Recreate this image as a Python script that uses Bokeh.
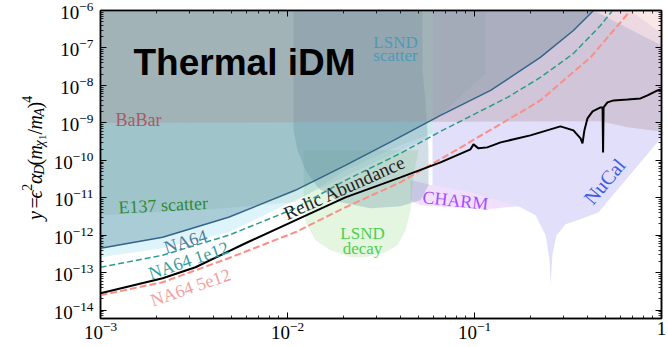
import numpy as np
from math import pi
from bokeh.plotting import figure
from bokeh.layouts import row
from bokeh.models import Label, LogAxis, FixedTicker
from bokeh.embed import file_html
from bokeh.resources import INLINE

# ---------------- data ----------------
x_ticks = [1e-3, 1e-2, 1e-1, 1.0]
y_ticks = [1e-14, 1e-13, 1e-12, 1e-11, 1e-10, 1e-9, 1e-8, 1e-7, 1e-6]

# thermal relic target (black)
relic_m = [1.0e-3, 2.15e-3, 3.22e-3, 5.96e-3, 1.10e-2, 2.04e-2, 4.02e-2, 6.58e-2, 9.52e-2,
           9.88e-2, 0.105, 0.117, 0.138, 0.199, 0.288, 0.338, 0.369, 0.378, 0.387, 0.402,
           0.428, 0.472, 0.484, 0.487, 0.490, 0.514, 0.554, 0.658, 0.772, 0.842, 0.952, 1.0]
relic_y = [2.84e-14, 7.13e-14, 1.40e-13, 6.12e-13, 2.51e-12, 1.03e-11, 3.52e-11, 8.84e-11, 1.97e-10,
           2.67e-10, 2.09e-10, 2.22e-10, 3.02e-10, 4.64e-10, 8.06e-10, 6.31e-10, 3.86e-10, 2.84e-10,
           6.31e-10, 1.32e-9, 2.03e-9, 2.59e-9, 2.59e-9, 1.63e-10, 2.59e-9, 3.52e-9, 3.98e-9,
           4.23e-9, 4.5e-9, 5.41e-9, 7.36e-9, 7.82e-9]

# NA64 limit (solid) and projections (dashed)
na64_m = [1.0e-3, 2.15e-3, 4.84e-3, 1.10e-2, 2.04e-2, 3.69e-2, 6.58e-2, 0.122, 0.225, 0.338, 0.433, 0.47]
na64_y = [4.5e-13, 8.84e-13, 3.02e-12, 1.585e-11, 7.36e-11, 3.41e-10, 1.585e-9, 7.36e-9, 5.58e-8,
          2.93e-7, 1.0e-6, 1.6e-6]
na64_1e12_m = [1.0e-3, 2.15e-3, 4.84e-3, 1.10e-2, 2.04e-2, 4.02e-2, 6.58e-2, 0.150, 0.225, 0.338, 0.472, 0.547]
na64_1e12_y = [1.40e-13, 2.93e-13, 1.0e-12, 5.25e-12, 2.93e-11, 1.54e-10, 5.93e-10, 4.79e-9, 1.63e-8,
               7.13e-8, 3.98e-7, 1.0e-6]
na64_5e12_m = [1.0e-3, 2.15e-3, 4.84e-3, 1.10e-2, 2.04e-2, 4.02e-2, 8.11e-2, 0.176, 0.225, 0.417, 0.683]
na64_5e12_y = [2.51e-14, 5.58e-14, 2.44e-13, 1.2e-12, 5.58e-12, 2.59e-11, 1.97e-10, 1.905e-9, 3.98e-9,
               5.58e-8, 1.0e-6]

# excluded regions (polygons)
babar_m = [1e-3, 0.472, 0.658, 1.0, 1.0, 0.433, 1e-3]
babar_y = [1e-9, 1.1e-9, 7.59e-10, 5.93e-10, 1.17e-7, 1e-6, 1e-6]
corner_a_m = [0.433, 0.683, 1.0, 1.0]
corner_a_y = [1e-6, 1e-6, 2.44e-7, 1.17e-7]
corner_b_m = [0.683, 1.0, 1.0]
corner_b_y = [1e-6, 1e-6, 2.44e-7]
e137_m = [1e-3, 1e-3, 3.97e-3, 1.10e-2, 2.04e-2, 4.02e-2, 5.96e-2, 5.96e-2, 0.1145, 0.1145]
e137_y = [1e-6, 3.41e-12, 4.93e-12, 7.59e-12, 5.41e-11, 2.51e-10, 5.25e-10, 1.03e-9, 2.09e-8, 1e-6]
band_m = [1e-3, 1e-3, 2.15e-3, 4.84e-3, 1.10e-2, 2.04e-2, 4.02e-2, 5.96e-2, 5.96e-2]
band_y = [1e-6, 2.59e-13, 4.5e-13, 1.2e-12, 8.58e-12, 3.74e-11, 1.85e-10, 4.64e-10, 1e-6]
lsnd_sc_m = [1.077e-2, 1.077e-2, 1.131e-2, 1.249e-2, 1.465e-2, 1.92e-2, 2.78e-2, 4.02e-2, 5.14e-2,
             5.675e-2, 5.675e-2, 5.47e-2, 5.27e-2, 5.27e-2]
lsnd_sc_y = [1e-6, 6.31e-10, 1.85e-10, 5.41e-11, 1.79e-11, 7.59e-12, 5.25e-12, 5.93e-12, 8.58e-12,
             2.15e-11, 1.85e-10, 3.98e-9, 2.51e-8, 1e-6]
lsnd_dec_m = [1.218e-2, 1.249e-2, 1.411e-2, 1.698e-2, 2.173e-2, 2.613e-2, 3.342e-2, 3.874e-2, 4.276e-2,
              4.549e-2, 4.72e-2, 5.018e-2, 1.218e-2]
lsnd_dec_y = [1.585e-11, 2.22e-12, 7.36e-13, 3.98e-13, 2.59e-13, 2.59e-13, 3.52e-13, 5.41e-13, 1.36e-12,
              4.64e-12, 3.98e-11, 1.85e-10, 1.85e-10]
charm_m = [4.549e-2, 5.96e-2, 9.52e-2, 0.150, 0.170, 0.150, 0.1173, 7.44e-2, 5.143e-2, 4.549e-2]
charm_y = [2.93e-11, 2.15e-11, 1.40e-11, 7.13e-12, 5.9e-12, 5.6e-12, 4.93e-12, 5.58e-12, 6.31e-12, 8.58e-12]
nucal_m = [0.0596, 0.0596, 0.0952, 0.150, 0.176, 0.212, 0.240, 0.252, 0.255, 0.261, 0.2745, 0.307,
           0.369, 0.4605, 1.0, 1.0, 0.433]
nucal_y = [1e-6, 2.15e-11, 1.40e-11, 7.13e-12, 5.58e-12, 3.41e-12, 1.0e-12, 2.15e-13, 4.64e-14,
           2.93e-13, 1.0e-12, 1.965e-12, 2.67e-12, 4.1e-12, 4.1e-10, 1.17e-7, 1e-6]

# ---------------- layout helpers ----------------
W, H = 668, 347
LAB_W = 50                       # narrow strip holding the y-axis title
FR_L, FR_R, FR_T, FR_B = 100, 661, 10, 318
X_LO, X_HI = 1e-3, 1.0
Y_LO, Y_HI = 6e-15, 1e-6


def mx(px):
    a, b = np.log10(X_LO), np.log10(X_HI)
    return float(10 ** (a + (px - FR_L) / (FR_R - FR_L) * (b - a)))


def my(py):
    a, b = np.log10(Y_LO), np.log10(Y_HI)
    return float(10 ** (b - (py - FR_T) / (FR_B - FR_T) * (b - a)))


p = figure(width=W - LAB_W, height=H, x_axis_type="log", y_axis_type="log",
           x_range=(X_LO, X_HI), y_range=(Y_LO, Y_HI),
           output_backend="svg", toolbar_location=None,
           min_border_left=FR_L - LAB_W, min_border_right=W - FR_R,
           min_border_top=FR_T, min_border_bottom=H - FR_B)
p.xgrid.visible = False
p.ygrid.visible = False
p.outline_line_color = "black"
p.outline_line_width = 1.5
p.background_fill_color = "white"
p.border_fill_color = "white"

x_minor = [k * d for d in (1e-3, 1e-2, 1e-1) for k in range(2, 10)]
y_minor = [k * d for d in (1e-15, 1e-14, 1e-13, 1e-12, 1e-11, 1e-10, 1e-9, 1e-8, 1e-7) for k in range(2, 10)]
SERIF = "Liberation Serif"


def style_axis(ax, ticks, minor, labels):
    ax.ticker = FixedTicker(ticks=ticks, minor_ticks=minor)
    ax.axis_line_color = "black"
    ax.axis_line_width = 1.5
    ax.major_tick_in = 6
    ax.major_tick_out = 0
    ax.minor_tick_in = 3
    ax.minor_tick_out = 0
    ax.major_tick_line_color = "black"
    ax.minor_tick_line_color = "black"
    ax.major_tick_line_width = 1
    ax.minor_tick_line_width = 0.8
    if labels:
        ax.major_label_text_font = SERIF
        ax.major_label_text_font_size = "19px"
        ax.major_label_text_color = "black"
    else:
        ax.major_label_text_font_size = "1px"
        ax.major_label_text_alpha = 0.0
        ax.major_label_standoff = 0


style_axis(p.xaxis[0], x_ticks, x_minor, True)
p.xaxis[0].major_label_standoff = 3
p.xaxis[0].major_label_overrides = {1: "1"}
style_axis(p.yaxis[0], y_ticks, y_minor, True)
p.yaxis[0].major_label_standoff = 7
top_ax = LogAxis()
style_axis(top_ax, x_ticks, x_minor, False)
p.add_layout(top_ax, "above")
right_ax = LogAxis()
style_axis(right_ax, y_ticks, y_minor, False)
p.add_layout(right_ax, "right")

# ---------------- shaded regions ----------------
regions = [
    (nucal_m, nucal_y, "#8b7feb", 0.25),
    (charm_m, charm_y, "#c070f0", 0.22),
    (lsnd_dec_m, lsnd_dec_y, "#78cd64", 0.20),
    (band_m, band_y, "#7bd3ef", 0.25),
    (e137_m, e137_y, "#7bb893", 0.15),
    (na64_m + [1e-3], na64_y + [1.6e-6], "#316f80", 0.30),
    (lsnd_sc_m, lsnd_sc_y, "#5c87a2", 0.28),
    (babar_m, babar_y, "#aa8a8d", 0.30),
    (corner_a_m, corner_a_y, "#a04070", 0.20),
    (corner_b_m, corner_b_y, "#e08080", 0.20),
]
for xs, ys, col, al in regions:
    p.patch(xs, ys, fill_color=col, fill_alpha=al, line_color=None)

# ---------------- curves ----------------
p.line(na64_m, na64_y, line_color="#34648a", line_width=1.5)
p.line(na64_1e12_m, na64_1e12_y, line_color="#2a9d8f", line_width=1.5, line_dash="6 3")
p.line(na64_5e12_m, na64_5e12_y, line_color="#fa8f85", line_width=2, line_dash="7 3")
p.line(relic_m, relic_y, line_color="black", line_width=2)


# ---------------- labels ----------------
def add_label(text, px, py, color, size, angle=0.0, align="center", baseline="middle",
              font=SERIF, style="normal"):
    p.add_layout(Label(x=mx(px), y=my(py), text=text, text_color=color,
                       text_font=font, text_font_size=f"{size}px", text_font_style=style,
                       angle=angle, text_align=align, text_baseline=baseline))


add_label("Thermal iDM", 133, 62, "black", 37, align="left", baseline="alphabetic",
          font="Liberation Sans", style="bold")
add_label("LSND", 395, 42, "#4c9ab8", 17, baseline="alphabetic")
add_label("scatter", 395, 55, "#4c9ab8", 17, baseline="alphabetic")
add_label("BaBar", 115, 119, "#a85a66", 18, align="left", baseline="alphabetic")
add_label("E137 scatter", 118, 207, "#2f8a35", 18, angle=0.05, align="left", baseline="alphabetic")
add_label("NA64", 185, 241, "#4f7d9c", 18, angle=17 * pi / 180)
add_label("NA64 1e12", 188, 260, "#35a0a0", 18, angle=19 * pi / 180)
add_label("NA64 5e12", 190, 287, "#f5a0a0", 18, angle=19 * pi / 180)
add_label("Relic Abundance", 344, 187, "#222222", 19, angle=24 * pi / 180)
add_label("LSND", 362, 233, "#4fcf4f", 17, baseline="alphabetic")
add_label("decay", 362, 248, "#4fcf4f", 17, baseline="alphabetic")
add_label("CHARM", 455, 200, "#a64dff", 18, angle=-6 * pi / 180)
add_label("NuCal", 604, 181, "#3b5de0", 20, angle=50 * pi / 180)

# ---------------- y-axis title in its own narrow strip ----------------
q = figure(width=LAB_W, height=H, x_range=(0, LAB_W), y_range=(0, H),
           output_backend="svg", toolbar_location=None,
           x_axis_location=None, y_axis_location=None,
           min_border_left=0, min_border_right=0, min_border_top=0, min_border_bottom=0)
q.xgrid.visible = False
q.ygrid.visible = False
q.outline_line_color = None
q.background_fill_color = "white"
q.border_fill_color = "white"

ylab_parts = [  # text, size, italic, shift(px, + = subscript), gap_before, advance
    ("y", 20, True, 0, 0, 9.5),
    ("=", 20, False, 0, 3.5, 14.8),
    ("\u03f5", 20, True, 0, 0, 8.7),
    ("2", 14, False, -8, 0, 7.5),
    ("\u03b1", 20, True, 0, 0, 10.5),
    ("D", 14, True, 5, 0, 10.5),
    ("(", 20, False, 0, 0, 6.7),
    ("m", 20, True, 0, 0, 14.5),
    ("\u03c7", 14, True, 5, 0, 7.7),
    ("1", 10, False, 8, 0, 5.5),
    ("/", 20, False, 0, 0.5, 6.1),
    ("m", 20, True, 0, 0, 14.5),
    ("A", 14, True, 5, 0, 9.0),
    (")", 20, False, 0, 0, 6.7),
    ("4", 14, False, -8, 0, 7.0),
]
base_x = 34
cur = 236.0
for txt, sz, it, sh, gap, adv in ylab_parts:
    cur -= gap
    q.add_layout(Label(x=base_x + sh, y=H - cur, text=txt, text_color="black",
                       text_font=SERIF, text_font_size=f"{sz}px",
                       text_font_style="italic" if it else "normal",
                       angle=pi / 2, text_align="left", text_baseline="alphabetic"))
    cur -= (adv - gap) if gap else adv

layout = row(q, p, spacing=0)
open("out.html", "w").write(file_html(layout, INLINE))
